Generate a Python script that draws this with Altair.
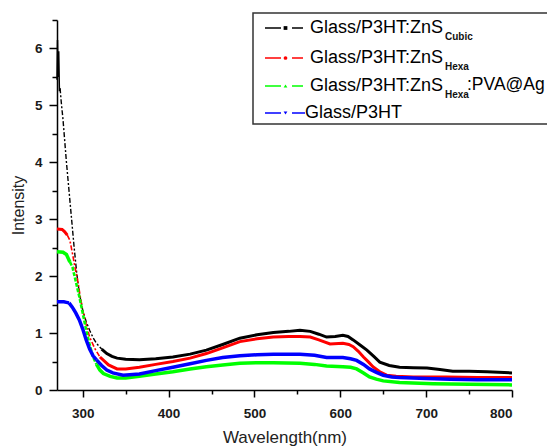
import altair as alt
import pandas as pd

# ---------------- data ----------------
cubic_x = [270, 270.6, 271.2, 272, 272.8, 273.6, 275, 277, 281, 284,
           287, 290, 293, 296, 300, 304, 308, 312, 316, 322,
           328, 334, 340, 350, 366, 385, 405, 425, 444, 463,
           483, 503, 522, 540, 553, 565, 575, 584, 594, 603,
           609, 615, 623, 631, 639, 646, 657, 669, 685, 701,
           716, 731, 750, 771, 800]
cubic_y = [5.45, 6.15, 5.5, 5.95, 5.25, 5.3, 5.05, 4.75, 4.0, 3.5,
           3.0, 2.5, 2.05, 1.7, 1.4, 1.2, 1.05, 0.92, 0.82, 0.72,
           0.64, 0.59, 0.56, 0.54, 0.53, 0.55, 0.58, 0.63, 0.70, 0.80,
           0.91, 0.97, 1.01, 1.03, 1.05, 1.03, 0.98, 0.93, 0.94, 0.96,
           0.94, 0.88, 0.79, 0.70, 0.59, 0.49, 0.43, 0.40, 0.39, 0.385,
           0.36, 0.33, 0.33, 0.32, 0.30]

hexa_x = [270, 276, 279, 282, 285, 288, 291, 294, 297, 300,
          304, 308, 314, 320, 330, 340, 350, 366, 385, 405,
          425, 444, 463, 483, 503, 522, 540, 553, 565, 575,
          588, 603, 610, 615, 621, 627, 633, 638, 646, 654,
          665, 685, 724, 760, 800]
hexa_y = [2.83, 2.82, 2.78, 2.72, 2.63, 2.40, 2.15, 1.93, 1.65, 1.40,
          1.15, 0.93, 0.73, 0.58, 0.44, 0.37, 0.37, 0.40, 0.45, 0.50,
          0.56, 0.64, 0.74, 0.85, 0.90, 0.93, 0.94, 0.94, 0.93, 0.88,
          0.81, 0.82, 0.80, 0.76, 0.68, 0.58, 0.49, 0.41, 0.32, 0.26,
          0.24, 0.23, 0.23, 0.22, 0.22]

pva_x = [270, 277, 281, 285, 288, 292, 296, 300, 304, 308,
         312, 316, 320, 324, 332, 340, 350, 366, 385, 405,
         425, 444, 463, 483, 503, 522, 553, 570, 584, 603,
         612, 619, 627, 634, 642, 650, 669, 708, 750, 800]
pva_y = [2.43, 2.42, 2.38, 2.25, 2.16, 1.90, 1.64, 1.35, 1.05, 0.80,
         0.58, 0.45, 0.35, 0.29, 0.24, 0.21, 0.21, 0.24, 0.28, 0.32,
         0.37, 0.41, 0.44, 0.47, 0.48, 0.48, 0.47, 0.45, 0.42, 0.41,
         0.40, 0.37, 0.30, 0.23, 0.19, 0.16, 0.13, 0.11, 0.10, 0.09]

p3ht_x = [270, 278, 281, 284, 288, 292, 296, 300, 304, 308,
          312, 316, 322, 328, 335, 347, 366, 385, 405, 425,
          444, 463, 483, 503, 522, 553, 570, 584, 603, 612,
          619, 627, 634, 642, 650, 660, 669, 700, 728, 760,
          800]
p3ht_y = [1.55, 1.55, 1.54, 1.53, 1.45, 1.35, 1.23, 1.07, 0.88, 0.72,
          0.60, 0.53, 0.43, 0.35, 0.30, 0.26, 0.28, 0.34, 0.40, 0.46,
          0.52, 0.57, 0.60, 0.62, 0.63, 0.63, 0.61, 0.57, 0.57, 0.55,
          0.52, 0.45, 0.37, 0.31, 0.26, 0.23, 0.22, 0.20, 0.19, 0.18,
          0.18]

x_ticks = [300, 350, 400, 450, 500, 550, 600, 650, 700, 750, 800]
y_ticks = [0, 0.5, 1, 1.5, 2, 2.5, 3, 3.5, 4, 4.5, 5, 5.5, 6, 6.5]

FONT = "Liberation Sans"


def split(xs, ys, lo, hi):
    rows = []
    for x, y in zip(xs, ys):
        if x <= lo:
            rows.append({"x": x, "y": y, "seg": "a"})
        if lo <= x <= hi:
            rows.append({"x": x, "y": y, "seg": "b"})
        if x >= hi:
            rows.append({"x": x, "y": y, "seg": "c"})
    return pd.DataFrame(rows)


x_scale = alt.Scale(domain=[270, 800], nice=False, zero=False)
y_scale = alt.Scale(domain=[0, 6.5], nice=False, zero=False)

x_axis = alt.Axis(
    title="Wavelength(nm)", values=x_ticks,
    labelExpr="datum.value % 100 === 0 ? '' + datum.value : ''",
    tickSize={"condition": {"test": "datum.value % 100 === 0", "value": 7}, "value": 4},
    grid=False, domainColor="black", domainWidth=1.5, tickColor="black", tickWidth=1.5,
    labelFont=FONT, labelFontSize=13.5, labelFontWeight="bold", labelColor="#1a1a1a",
    labelPadding=9, titleFont=FONT, titleFontSize=17, titleFontWeight="normal",
    titleColor="#222", titleY=52, titleBaseline="alphabetic",
)
y_axis = alt.Axis(
    title="Intensity", values=y_ticks,
    labelExpr="datum.value % 1 === 0 ? '' + datum.value : ''",
    tickSize={"condition": {"test": "datum.value % 1 === 0", "value": 8}, "value": 5},
    grid=False, domainColor="black", domainWidth=1.5, tickColor="black", tickWidth=1.5,
    labelFont=FONT, labelFontSize=13.5, labelFontWeight="bold", labelColor="#1a1a1a",
    labelPadding=7, titleFont=FONT, titleFontSize=16, titleFontWeight="normal",
    titleColor="#222", titleX=-39, titleY=185, titleAngle=-90,
    titleAlign="center", titleBaseline="middle",
)

enc_x = alt.X("x:Q", scale=x_scale, axis=x_axis)
enc_y = alt.Y("y:Q", scale=y_scale, axis=y_axis)


def series(xs, ys, color, lo, hi, a_width, thick, thin_dash, thin_width):
    df = split(xs, ys, lo, hi)
    base = alt.Chart(df)
    head = base.transform_filter("datum.seg === 'a'").mark_line(
        color=color, strokeWidth=a_width).encode(x=enc_x, y=enc_y)
    tail = base.transform_filter("datum.seg === 'c'").mark_line(
        color=color, strokeWidth=thick).encode(x=enc_x, y=enc_y)
    steep_props = dict(color=color, strokeWidth=thin_width)
    if thin_dash:
        steep_props["strokeDash"] = thin_dash
    steep = base.transform_filter("datum.seg === 'b'").mark_line(**steep_props).encode(
        x=enc_x, y=enc_y)
    return [head, steep, tail]


layers = []
layers += series(cubic_x, cubic_y, "#000000", 273.6, 322, 1.5, 3, [5, 2, 2, 2], 1.4)
layers += series(hexa_x, hexa_y, "#ff0000", 282, 320, 3, 3, [5, 2, 2, 2], 1.6)
layers += series(pva_x, pva_y, "#00ff00", 285, 316, 3.5, 3.5, [4, 1.5], 2.6)
layers += series(p3ht_x, p3ht_y, "#0000ff", 284, 316, 3.5, 3.5, None, 3.5)


# ---------------- legend drawn by hand ----------------
def one():
    return alt.Chart(pd.DataFrame({"k": [0]}))


legend = [
    one().mark_rect(fill="white", stroke="#333", strokeWidth=1.5).encode(
        x=alt.value(196), x2=alt.value(520), y=alt.value(-7), y2=alt.value(104)),
]
rows = [
    ("#000000", 8, "square", "Glass/P3HT:ZnS", "Cubic", None, 253),
    ("#ff0000", 38, "circle", "Glass/P3HT:ZnS", "Hexa", None, 253),
    ("#00ff00", 66, "triangle-up", "Glass/P3HT:ZnS", "Hexa", ":PVA@Ag", 253),
    ("#0000ff", 93, "triangle-down", "Glass/P3HT", None, None, 248),
]
for color, ry, shape, main, sub, tail, tx in rows:
    legend.append(one().mark_rule(color=color, strokeWidth=1.5).encode(
        x=alt.value(208), x2=alt.value(224), y=alt.value(ry)))
    legend.append(one().mark_rule(color=color, strokeWidth=1.5).encode(
        x=alt.value(235), x2=alt.value(248 if tx == 248 else 246), y=alt.value(ry)))
    legend.append(one().mark_point(shape=shape, filled=True, color=color, size=14, opacity=1).encode(
        x=alt.value(228.5), y=alt.value(ry)))
    legend.append(one().mark_text(text=main, align="left", baseline="middle", font=FONT,
                                  fontSize=18, color="black").encode(
        x=alt.value(tx), y=alt.value(ry)))
    if sub:
        legend.append(one().mark_text(text=sub, align="left", baseline="middle", font=FONT,
                                      fontSize=10, fontWeight="bold", color="#111").encode(
            x=alt.value(388), y=alt.value(ry + 9)))
    if tail:
        legend.append(one().mark_text(text=tail, align="left", baseline="middle", font=FONT,
                                      fontSize=17.5, color="black").encode(
            x=alt.value(410), y=alt.value(ry - 1)))

chart = alt.layer(*layers, *legend).properties(
    width=455, height=370,
    autosize=alt.AutoSizeParams(type="none"),
    padding={"left": 49, "top": 12, "right": 35, "bottom": 57},
    background="white",
).configure_view(stroke=None)

chart.save("out.html", embed_options={"renderer": "svg", "actions": False})
